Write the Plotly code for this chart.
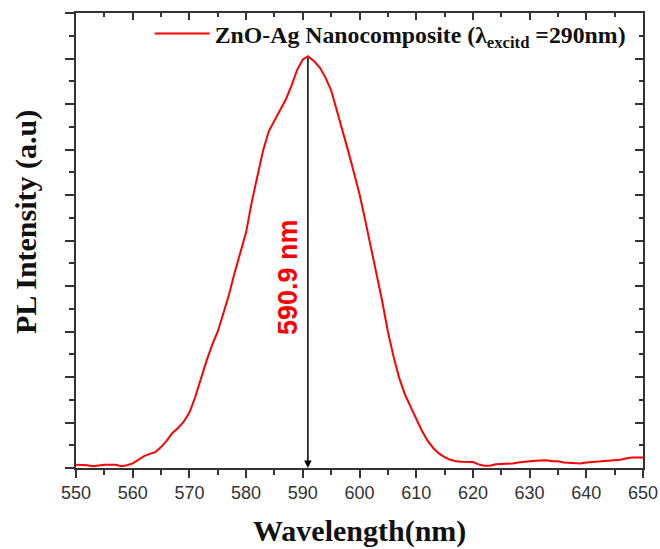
import plotly.graph_objects as go

wavelength = [550, 551, 552, 553, 554, 555, 556, 557, 558, 559,
              560, 561, 562, 563, 564, 565, 566, 567, 568, 569,
              570, 571, 572, 573, 574, 575, 576, 577, 578, 579,
              580, 581, 582, 583, 584, 585, 586, 587, 588, 589,
              590, 590.9, 592, 593, 594, 595, 596, 597, 598, 599,
              600, 601, 602, 603, 604, 605, 606, 607, 608, 609,
              610, 611, 612, 613, 614, 615, 616, 617, 618, 619,
              620, 621, 622, 623, 624, 625, 626, 627, 628, 629,
              630, 631, 632, 633, 634, 635, 636, 637, 638, 639,
              640, 641, 642, 643, 644, 645, 646, 647, 648, 649, 650]
intensity = [0.07, 0.07, 0.06, 0.04, 0.06, 0.07, 0.07, 0.07, 0.04, 0.06,
             0.10, 0.18, 0.26, 0.31, 0.35, 0.46, 0.60, 0.77, 0.88, 1.02,
             1.22, 1.55, 1.97, 2.35, 2.70, 3.00, 3.40, 3.82, 4.30, 4.75,
             5.18, 5.85, 6.45, 6.98, 7.40, 7.65, 7.87, 8.10, 8.40, 8.75,
             8.98, 9.05, 8.94, 8.80, 8.58, 8.30, 7.87, 7.40, 6.97, 6.50,
             6.02, 5.45, 4.88, 4.30, 3.67, 3.00, 2.45, 1.98, 1.62, 1.35,
             1.08, 0.82, 0.60, 0.44, 0.32, 0.24, 0.18, 0.15, 0.14, 0.14,
             0.13, 0.08, 0.05, 0.05, 0.08, 0.09, 0.09, 0.10, 0.12, 0.14,
             0.15, 0.16, 0.17, 0.17, 0.15, 0.15, 0.12, 0.11, 0.10, 0.10,
             0.12, 0.13, 0.15, 0.16, 0.17, 0.18, 0.18, 0.21, 0.23, 0.23, 0.23]

peak_x = 590.9
peak_y = 9.05
series_name = "ZnO-Ag Nanocomposite (λ<sub>excitd</sub> =290nm)"
peak_label = "590.9 nm"
x_title = "Wavelength(nm)"
y_title = "PL Intensity (a.u)"

AX = "#333333"
SERIF = "Liberation Serif, Times New Roman, serif"
SANS = "Liberation Sans, Arial, sans-serif"

fig = go.Figure()
fig.add_trace(go.Scatter(
    x=wavelength, y=intensity, mode="lines",
    line=dict(color="#ff0000", width=2),
    name="<b>" + series_name + "</b>",
))
# dummy trace to activate the mirrored (inside-tick) axes
fig.add_trace(go.Scatter(x=[None], y=[None], xaxis="x2", yaxis="y2",
                         showlegend=False, hoverinfo="skip"))

common = dict(showgrid=False, zeroline=False, showline=True,
              linecolor=AX, linewidth=1.5, tickcolor=AX, tickwidth=1.5)

fig.update_layout(
    width=660, height=549,
    margin=dict(l=76, r=17, t=13, b=81, autoexpand=False),
    paper_bgcolor="white", plot_bgcolor="white",
    xaxis=dict(range=[550, 650], dtick=10, tick0=550, ticks="outside", ticklen=8,
               minor=dict(dtick=5, ticks="outside", ticklen=5, tickcolor=AX, tickwidth=1.5),
               tickfont=dict(family=SANS, size=18, color=AX), **common),
    yaxis=dict(range=[0, 10], dtick=1, tick0=0, ticks="outside", ticklen=9,
               showticklabels=False,
               minor=dict(dtick=0.5, ticks="outside", ticklen=5, tickcolor=AX, tickwidth=1.5),
               **common),
    xaxis2=dict(range=[550, 650], dtick=10, tick0=550, ticks="inside", ticklen=7,
                overlaying="x", side="top", anchor="y", showticklabels=False,
                minor=dict(dtick=5, ticks="inside", ticklen=4, tickcolor=AX, tickwidth=1.5),
                **common),
    yaxis2=dict(range=[0, 10], dtick=1, tick0=0, ticks="inside", ticklen=8,
                overlaying="y", side="right", anchor="x", showticklabels=False,
                minor=dict(dtick=0.5, ticks="inside", ticklen=4, tickcolor=AX, tickwidth=1.5),
                **common),
    showlegend=True,
    legend=dict(x=0.13, y=1.003, xanchor="left", yanchor="top",
                bgcolor="rgba(0,0,0,0)", itemwidth=55,
                font=dict(family=SERIF, size=23.8, color="#111111")),
)

fig.add_annotation(x=peak_x, y=0, ax=peak_x, ay=peak_y, xref="x", yref="y",
                   axref="x", ayref="y", text="", showarrow=True,
                   arrowhead=2, arrowsize=1, arrowwidth=1.5, arrowcolor="black",
                   standoff=0, startstandoff=0)
fig.add_annotation(x=587.4, y=4.2, xref="x", yref="y", text="<b>" + peak_label + "</b>",
                   textangle=-90, showarrow=False, xanchor="center", yanchor="middle",
                   font=dict(family=SANS, size=27, color="#ff0000"))
fig.add_annotation(x=0.5, y=-0.1385, xref="paper", yref="paper",
                   text="<b>" + x_title + "</b>", showarrow=False,
                   xanchor="center", yanchor="middle",
                   font=dict(family=SERIF, size=30, color="#111111"))
fig.add_annotation(x=-0.0882, y=0.5407, xref="paper", yref="paper",
                   text="<b>" + y_title + "</b>", textangle=-90, showarrow=False,
                   xanchor="center", yanchor="middle",
                   font=dict(family=SERIF, size=30, color="#111111"))

fig.write_html("out.html")
